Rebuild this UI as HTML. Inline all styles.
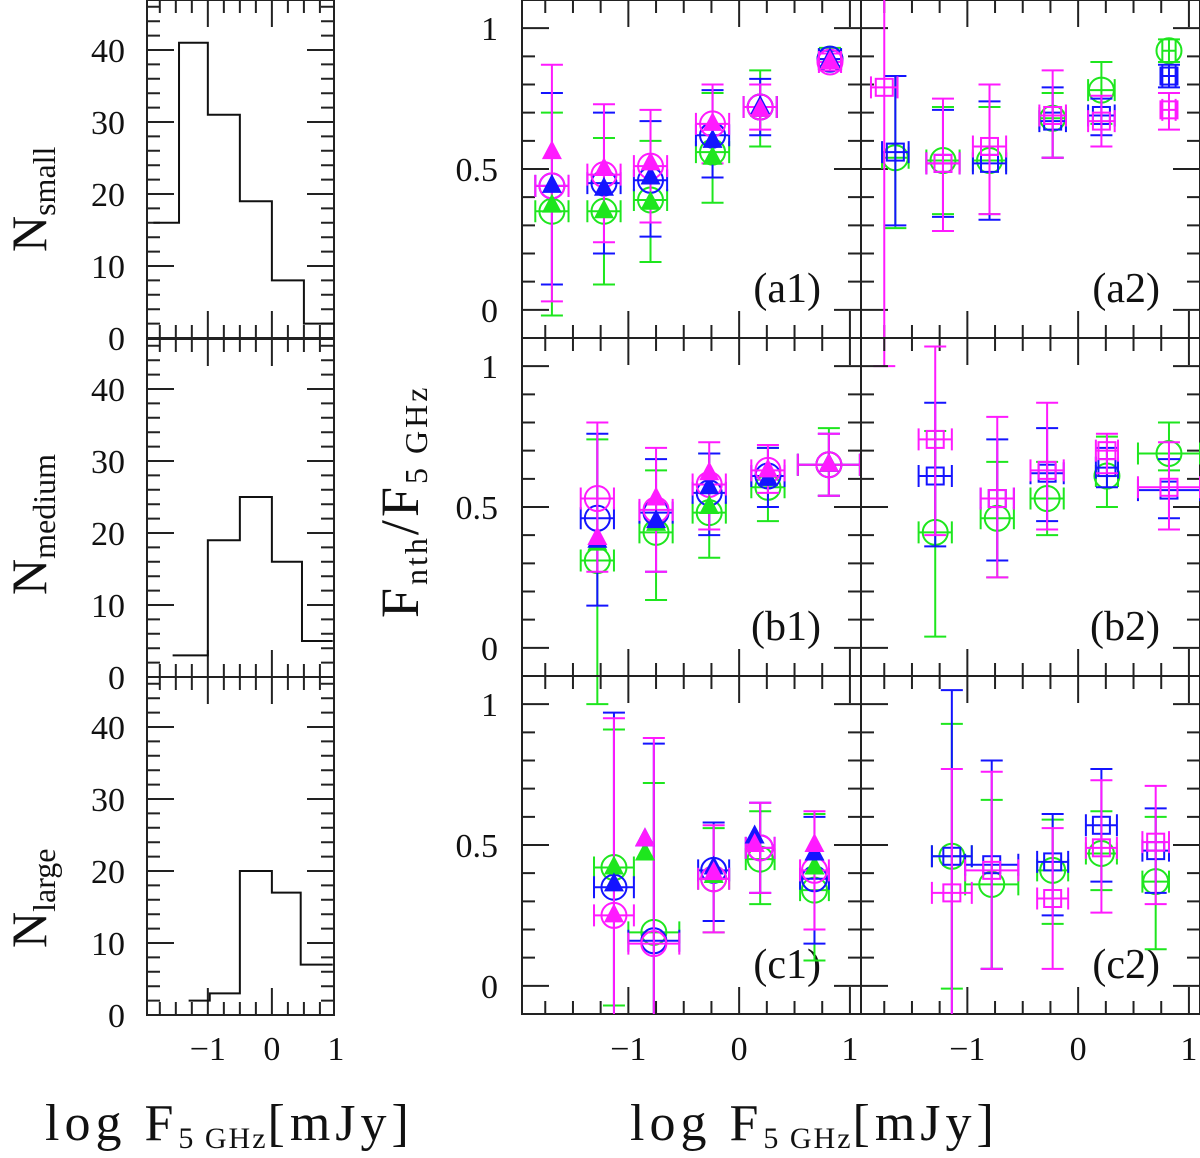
<!DOCTYPE html>
<html><head><meta charset="utf-8"><style>
html,body{margin:0;padding:0;background:#fff}
svg{display:block}
text{font-family:"Liberation Serif","DejaVu Serif",serif;fill:#111}
</style></head><body>
<svg id="fig" width="1200" height="1158" viewBox="0 0 1200 1158" xmlns="http://www.w3.org/2000/svg">
<defs>
<clipPath id="cp1"><rect x="522" y="0" width="339" height="1014"/></clipPath>
<clipPath id="cp2"><rect x="861" y="0" width="339" height="1014"/></clipPath>
</defs>
<g id="hist"></g>
<g id="panels"></g>
<text x="45" y="1140" font-size="52" letter-spacing="5">log  F<tspan font-size="30" dy="8" letter-spacing="2">5 GHz</tspan><tspan dy="-8">[mJy]</tspan></text>
<text x="630" y="1140" font-size="52" letter-spacing="5">log  F<tspan font-size="30" dy="8" letter-spacing="2">5 GHz</tspan><tspan dy="-8">[mJy]</tspan></text>
<text transform="translate(418,618) rotate(-90)" font-size="54" letter-spacing="3">F<tspan font-size="32" dy="9">nth</tspan><tspan dy="-9">/F</tspan><tspan font-size="32" dy="9">5 GHz</tspan></text>
<text transform="translate(46,252) rotate(-90)" font-size="50">N<tspan font-size="32" dy="9">small</tspan></text>
<text transform="translate(46,595) rotate(-90)" font-size="50">N<tspan font-size="32" dy="9">medium</tspan></text>
<text transform="translate(46,948) rotate(-90)" font-size="50">N<tspan font-size="32" dy="9">large</tspan></text>
</svg>
<script>
// ---------- histogram data ----------
const histSmallEdges = [-1.85,-1.45,-1.0,-0.5,0,0.5,0.97];
const histSmallCounts = [16,41,31,19,8,2];
const histMediumEdges = [-1.55,-1.0,-0.5,0,0.47,0.95];
const histMediumCounts = [3,19,25,16,5];
const histLargeEdges = [-1.3,-0.97,-0.5,0,0.45,0.95];
const histLargeCounts = [2,3,20,17,7];
const histYTicks = [0,10,20,30,40];
const xTickLabels = [-1,0,1];
const fracTickLabels = [0,0.5,1];

// ---------- panel a1 ----------
const a1X = [-1.69,-1.22,-0.80,-0.24,0.19,0.82];
const a1Xe = [0.15,0.15,0.15,0.15,0.15,0.1];
const a1GcY = [0.35,0.35,0.39,0.56,0.72,0.89];
const a1GcLo = [-0.02,0.09,0.17,0.38,0.58,0.86];
const a1GcHi = [0.70,0.61,0.60,0.77,0.85,0.93];
const a1BcY = [0.44,0.45,0.46,0.62,0.72,0.89];
const a1BcLo = [0.09,0.20,0.26,0.47,0.62,0.86];
const a1BcHi = [0.77,0.70,0.67,0.78,0.82,0.92];
const a1McY = [0.44,0.48,0.51,0.66,0.72,0.88];
const a1McLo = [0.03,0.24,0.31,0.52,0.64,0.85];
const a1McHi = [0.87,0.73,0.71,0.80,0.80,0.91];
const a1GtY = [0.37,0.35,0.38,0.54,0.71,0.88];
const a1BtY = [0.44,0.43,0.47,0.60,0.72,0.89];
const a1MtY = [0.56,0.50,0.52,0.66,0.71,0.88];
// ---------- panel a2 ----------
const a2X = [-1.65,-1.22,-0.80,-0.23,0.21,0.82];
const a2Xe = [0.12,0.15,0.15,0.12,0.12,0.06];
const a2GcY = [0.54,0.53,0.53,0.68,0.78,0.92];
const a2GcLo = [0.29,0.34,0.34,0.54,0.66,0.88];
const a2GcHi = [0.83,0.72,0.72,0.77,0.88,0.96];
const a2BsY = [0.56,0.52,0.52,0.67,0.69,0.83];
const a2BsLo = [0.30,0.33,0.32,0.54,0.62,0.79];
const a2BsHi = [0.83,0.71,0.74,0.79,0.75,0.87];
const a2MsX = [-1.75,-1.22,-0.80,-0.23,0.21,0.82];
const a2MsY = [0.79,0.52,0.58,0.69,0.67,0.71];
const a2MsLo = [-0.2,0.28,0.34,0.54,0.58,0.64];
const a2MsHi = [1.3,0.75,0.80,0.85,0.76,0.77];
// ---------- panel b1 ----------
const b1X = [-1.28,-0.75,-0.27,0.26,0.81];
const b1Xe = [0.15,0.15,0.15,0.15,0.28];
const b1GcY = [0.31,0.41,0.48,0.57,0.65];
const b1GcLo = [-0.2,0.17,0.32,0.45,0.54];
const b1GcHi = [0.74,0.63,0.69,0.71,0.78];
const b1BcY = [0.46,0.48,0.55,0.61,0.65];
const b1BcLo = [0.15,0.27,0.40,0.50,0.54];
const b1BcHi = [0.76,0.67,0.69,0.71,0.76];
const b1McY = [0.53,0.49,0.58,0.63,0.65];
const b1McLo = [0.27,0.27,0.42,0.55,0.54];
const b1McHi = [0.80,0.71,0.73,0.72,0.76];
const b1GtY = [0.37,0.44,0.50,0.60,0.65];
const b1BtY = [0.38,0.45,0.57,0.60,0.65];
const b1MtY = [0.39,0.53,0.62,0.63,0.65];
// ---------- panel b2 ----------
const b2X = [-1.29,-0.73,-0.28,0.26,0.82];
const b2Xe = [0.15,0.15,0.15,0.1,0.28];
const b2GcY = [0.41,0.46,0.53,0.61,0.69];
const b2GcLo = [0.04,0.25,0.40,0.50,0.63];
const b2GcHi = [0.77,0.66,0.66,0.75,0.80];
const b2BsY = [0.61,0.53,0.62,0.64,0.56];
const b2BsLo = [0.36,0.31,0.45,0.57,0.46];
const b2BsHi = [0.87,0.74,0.78,0.71,0.67];
const b2MsY = [0.74,0.53,0.63,0.70,0.57];
const b2MsLo = [0.40,0.25,0.42,0.62,0.42];
const b2MsHi = [1.07,0.82,0.87,0.76,0.73];
// ---------- panel c1 ----------
const c1X = [-1.13,-0.77,-0.23,0.19,0.68];
const c1Xe = [0.18,0.23,0.14,0.13,0.13];
const c1GcY = [0.42,0.19,0.38,0.45,0.34];
const c1GcLo = [-0.07,-0.2,0.19,0.29,0.09];
const c1GcHi = [0.91,0.72,0.56,0.62,0.61];
const c1BcY = [0.35,0.16,0.41,0.49,0.38];
const c1BcLo = [-0.2,-0.2,0.23,0.33,0.15];
const c1BcHi = [0.97,0.86,0.58,0.65,0.60];
const c1McY = [0.25,0.15,0.38,0.49,0.41];
const c1McLo = [-0.2,-0.2,0.19,0.33,0.20];
const c1McHi = [0.95,0.88,0.57,0.65,0.62];
const c1TX = [-1.13,-0.85,-0.23,0.14,0.68];
const c1GtY = [0.42,0.47,0.39,0.50,0.42];
const c1BtY = [0.36,0.52,0.42,0.53,0.47];
const c1MtY = [0.25,0.52,0.40,0.50,0.50];
// ---------- panel c2 ----------
const c2X = [-1.14,-0.78,-0.23,0.21,0.70];
const c2Xe = [0.18,0.24,0.14,0.14,0.12];
const c2GcY = [0.46,0.36,0.41,0.47,0.37];
const c2GcLo = [-0.01,0.06,0.22,0.34,0.13];
const c2GcHi = [0.93,0.66,0.59,0.62,0.60];
const c2BsY = [0.46,0.43,0.44,0.57,0.48];
const c2BsLo = [-0.2,0.06,0.25,0.37,0.33];
const c2BsHi = [1.05,0.80,0.61,0.77,0.63];
const c2MsY = [0.33,0.41,0.31,0.49,0.51];
const c2MsLo = [-0.2,0.06,0.06,0.26,0.29];
const c2MsHi = [0.77,0.76,0.56,0.73,0.71];

const NS = "http://www.w3.org/2000/svg";
const G = "#1ee61e", B = "#1414ff", M = "#ff1aff";
function mk(parent, tag, attrs){ const e=document.createElementNS(NS,tag); for(const k in attrs) e.setAttribute(k,attrs[k]); parent.appendChild(e); return e; }

// ---------- histograms ----------
const hist = document.getElementById('hist');
const HX0=147, HX1=334, HXMIN=-1.95, HXMAX=0.97;
const hx = v => HX0 + (v-HXMIN)/(HXMAX-HXMIN)*(HX1-HX0);
const histRows = [
  {top:0, name:'small', edges:histSmallEdges, counts:histSmallCounts},
  {top:339, name:'medium', edges:histMediumEdges, counts:histMediumCounts},
  {top:677, name:'large', edges:histLargeEdges, counts:histLargeCounts}
];
histRows.forEach(r=>{
  const bot = r.top+338;
  const hy = c => bot - c*7.2;
  const g = mk(hist,'g',{});
  
  
  const fr = mk(g,'rect',{x:HX0,y:r.top,width:HX1-HX0,height:338,fill:'none',stroke:'#222','stroke-width':2});
  
  
  let d='';
  for(let v=-1.75; v<=0.96; v+=0.25){
    const x=hx(v); const maj=Math.abs(v-Math.round(v))<1e-6; const L=maj?27:13;
    d+=`M${x},${bot}v${-L}M${x},${r.top}v${L}`;
  }
  for(let c=2;c<47;c+=2){
    const y=hy(c); const L=(c%10===0)?27:13;
    d+=`M${HX0},${y}h${L}M${HX1},${y}h${-L}`;
  }
  const tk = mk(g,'path',{d:d,stroke:'#222','stroke-width':2,fill:'none'});
  
  
  let p=`M${hx(r.edges[0])},${hy(r.counts[0])}`;
  r.counts.forEach((c,i)=>{ p+=`L${hx(r.edges[i])},${hy(c)}L${hx(r.edges[i+1])},${hy(c)}`; });
  const st = mk(g,'path',{d:p,stroke:'#111','stroke-width':2,fill:'none'});
  
  
  histYTicks.forEach(c=>{
    const t=mk(g,'text',{x:125,y:hy(c)+12,'font-size':34,'text-anchor':'end'});
    t.textContent=String(c);
    
    
  });
});
xTickLabels.forEach(v=>{
  const t=mk(hist,'text',{x:hx(v),y:1060,'font-size':34,'text-anchor':'middle'});
  t.textContent = v<0 ? '\u2212'+Math.abs(v) : String(v);
  
  
});

// ---------- scatter panels ----------
const panelsG = document.getElementById('panels');
const PXMIN=-1.96, PXMAX=1.1, PW=339, PH=338, YMIN=-0.1, YMAX=1.1;
function makePanel(col,row,label){
  const x0 = col===0?522:861, y0 = row*338;
  const sx = v => x0 + (v-PXMIN)/(PXMAX-PXMIN)*PW;
  const sy = v => y0 + PH - (v-YMIN)/(YMAX-YMIN)*PH;
  const g = mk(panelsG,'g',{});
  
  
  const fr = mk(g,'rect',{x:x0,y:y0,width:PW,height:PH,fill:'none',stroke:'#222','stroke-width':2});
  
  
  let d='';
  for(let v=-1.75; v<=1.05; v+=0.25){
    const x=sx(v); const maj=Math.abs(v-Math.round(v))<1e-6; const L=maj?27:13;
    d+=`M${x},${y0+PH}v${-L}M${x},${y0}v${L}`;
  }
  for(let k=0;k<=10;k++){
    const v=k/10; const y=sy(v); const maj=(k%5===0); const L=maj?27:13;
    d+=`M${x0},${y}h${L}M${x0+PW},${y}h${-L}`;
  }
  const tk=mk(g,'path',{d:d,stroke:'#222','stroke-width':2,fill:'none'});
  
  
  const lb=mk(g,'text',{x:x0+PW-40,y:y0+PH-36,'font-size':42,'text-anchor':'end'});
  lb.textContent='('+label+')';
  
  
  if(col===0){
    fracTickLabels.forEach(v=>{
      const t=mk(g,'text',{x:498,y:sy(v)+12,'font-size':34,'text-anchor':'end'});
      t.textContent=String(v);
      
      
    });
  }
  if(row===2){
    xTickLabels.forEach(v=>{
      const t=mk(g,'text',{x:sx(v),y:1060,'font-size':34,'text-anchor':'middle'});
      t.textContent = v<0 ? '\u2212'+Math.abs(v) : String(v);
      
      
    });
  }
  const data = mk(g,'g',{'clip-path':`url(#cp${col+1})`});
  
  
  return {sx,sy,data};
}
function errSeries(P,name,color,xs,xe,ys,lo,hi,shape){
  const g=mk(P.data,'g',{stroke:color,'stroke-width':2,fill:'none'});
  
  
  xs.forEach((xv,i)=>{
    const x=P.sx(xv), y=P.sy(ys[i]), yl=P.sy(lo[i]), yh=P.sy(hi[i]);
    const xl=P.sx(xv-xe[i]), xr=P.sx(xv+xe[i]);
    const e=mk(g,'path',{d:`M${x},${yl}V${yh}M${x-11},${yl}h22M${x-11},${yh}h22M${xl},${y}H${xr}M${xl},${y-11}v22M${xr},${y-11}v22`});
    
    
    let m;
    if(shape==='circle') m=mk(g,'circle',{cx:x,cy:y,r:12.5});
    else m=mk(g,'rect',{x:x-8.5,y:y-8.5,width:17,height:17});
    
    
  });
}
function triSeries(P,name,color,xs,ys){
  const g=mk(P.data,'g',{fill:color,stroke:'none'});
  
  
  xs.forEach((xv,i)=>{
    const x=P.sx(xv), y=P.sy(ys[i]);
    const t=mk(g,'path',{d:`M${x},${y-12}L${x+10},${y+7}L${x-10},${y+7}Z`});
    
    
  });
}
let P;
P=makePanel(0,0,'a1');
errSeries(P,'a1-green-circles',G,a1X,a1Xe,a1GcY,a1GcLo,a1GcHi,'circle');
errSeries(P,'a1-blue-circles',B,a1X,a1Xe,a1BcY,a1BcLo,a1BcHi,'circle');
errSeries(P,'a1-magenta-circles',M,a1X,a1Xe,a1McY,a1McLo,a1McHi,'circle');
triSeries(P,'a1-green-triangles',G,a1X,a1GtY);
triSeries(P,'a1-blue-triangles',B,a1X,a1BtY);
triSeries(P,'a1-magenta-triangles',M,a1X,a1MtY);
P=makePanel(1,0,'a2');
errSeries(P,'a2-green-circles',G,a2X,a2Xe,a2GcY,a2GcLo,a2GcHi,'circle');
errSeries(P,'a2-blue-squares',B,a2X,a2Xe,a2BsY,a2BsLo,a2BsHi,'square');
errSeries(P,'a2-magenta-squares',M,a2MsX,a2Xe,a2MsY,a2MsLo,a2MsHi,'square');
P=makePanel(0,1,'b1');
errSeries(P,'b1-green-circles',G,b1X,b1Xe,b1GcY,b1GcLo,b1GcHi,'circle');
errSeries(P,'b1-blue-circles',B,b1X,b1Xe,b1BcY,b1BcLo,b1BcHi,'circle');
errSeries(P,'b1-magenta-circles',M,b1X,b1Xe,b1McY,b1McLo,b1McHi,'circle');
triSeries(P,'b1-green-triangles',G,b1X,b1GtY);
triSeries(P,'b1-blue-triangles',B,b1X,b1BtY);
triSeries(P,'b1-magenta-triangles',M,b1X,b1MtY);
P=makePanel(1,1,'b2');
errSeries(P,'b2-green-circles',G,b2X,b2Xe,b2GcY,b2GcLo,b2GcHi,'circle');
errSeries(P,'b2-blue-squares',B,b2X,b2Xe,b2BsY,b2BsLo,b2BsHi,'square');
errSeries(P,'b2-magenta-squares',M,b2X,b2Xe,b2MsY,b2MsLo,b2MsHi,'square');
P=makePanel(0,2,'c1');
errSeries(P,'c1-green-circles',G,c1X,c1Xe,c1GcY,c1GcLo,c1GcHi,'circle');
errSeries(P,'c1-blue-circles',B,c1X,c1Xe,c1BcY,c1BcLo,c1BcHi,'circle');
errSeries(P,'c1-magenta-circles',M,c1X,c1Xe,c1McY,c1McLo,c1McHi,'circle');
triSeries(P,'c1-green-triangles',G,c1TX,c1GtY);
triSeries(P,'c1-blue-triangles',B,c1TX,c1BtY);
triSeries(P,'c1-magenta-triangles',M,c1TX,c1MtY);
P=makePanel(1,2,'c2');
errSeries(P,'c2-green-circles',G,c2X,c2Xe,c2GcY,c2GcLo,c2GcHi,'circle');
errSeries(P,'c2-blue-squares',B,c2X,c2Xe,c2BsY,c2BsLo,c2BsHi,'square');
errSeries(P,'c2-magenta-squares',M,c2X,c2Xe,c2MsY,c2MsLo,c2MsHi,'square');
</script>
</body></html>
